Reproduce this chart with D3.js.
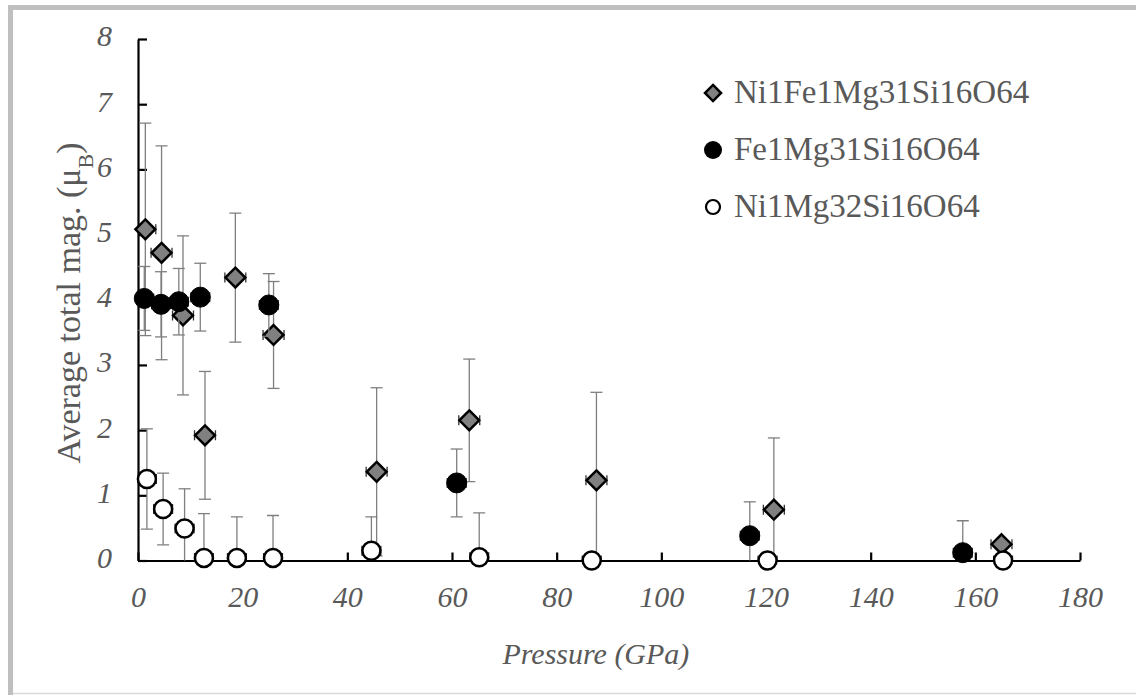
<!DOCTYPE html>
<html><head><meta charset="utf-8"><script src="https://cdn.jsdelivr.net/npm/d3@7"></script></head>
<body style="margin:0">
<svg id="chart" width="1136" height="695"></svg>
<script>
// Ni1Fe1Mg31Si16O64 (grey diamonds)
const niFePressure = [1.4, 4.5, 8.6, 12.8, 18.6, 25.9, 45.6, 63.3, 87.6, 121.5, 165.0];
const niFeMag = [5.08, 4.72, 3.76, 1.92, 4.34, 3.46, 1.36, 2.15, 1.23, 0.78, 0.25];
const niFeErr = [1.63, 1.64, 1.22, 0.98, 0.99, 0.82, 1.29, 0.94, 1.35, 1.1, 0.0];

// Fe1Mg31Si16O64 (black circles)
const fePressure = [1.2, 4.4, 7.8, 11.9, 25.0, 60.9, 116.9, 157.6];
const feMag = [4.02, 3.93, 3.97, 4.04, 3.92, 1.19, 0.38, 0.12];
const feErr = [0.49, 0.5, 0.51, 0.52, 0.48, 0.52, 0.52, 0.49];

// Ni1Mg32Si16O64 (open circles)
const niPressure = [1.7, 4.8, 8.9, 12.6, 18.9, 25.8, 44.6, 65.2, 86.7, 120.3, 165.3];
const niMag = [1.25, 0.79, 0.49, 0.04, 0.04, 0.04, 0.15, 0.05, 0.0, 0.0, 0.0];
const niErr = [0.77, 0.55, 0.61, 0.68, 0.63, 0.65, 0.52, 0.68, 0.0, 0.0, 0.0];

// small horizontal (pressure) error, mostly hidden behind markers
const niFePressureErr = 2.0;
const circlePressureErr = 1.8;

const xTicks = [0, 20, 40, 60, 80, 100, 120, 140, 160, 180];
const yTicks = [0, 1, 2, 3, 4, 5, 6, 7, 8];

const seriesNames = ['Ni1Fe1Mg31Si16O64', 'Fe1Mg31Si16O64', 'Ni1Mg32Si16O64'];

const fontFam = '"Liberation Serif"';
const textGrey = '#595959';
const barGrey = '#7f7f7f';

const svg = d3.select('#chart');

// outer frame
svg.append('rect')
  .attr('x', 10.5)
  .attr('y', 7.5)
  .attr('width', 1140)
  .attr('height', 690)
  .attr('fill', 'none')
  .attr('stroke', '#bfbfbf')
  .attr('stroke-width', 5);
svg.append('line')
  .attr('x1', 13).attr('x2', 1136)
  .attr('y1', 693.5).attr('y2', 693.5)
  .attr('stroke', '#d9d9d9')
  .attr('stroke-width', 1.5);

const x = d3.scaleLinear().domain([0, 180]).range([138, 1080]);
const y = d3.scaleLinear().domain([0, 8]).range([560.5, 39]);

// clip so lower error bars stop at the axis
svg.append('defs')
  .append('clipPath')
  .attr('id', 'plot-clip')
  .append('rect')
  .attr('x', x(0))
  .attr('y', y(8) - 5)
  .attr('width', x(180) - x(0) + 10)
  .attr('height', y(0) - y(8) + 5);

// axes
const xAxis = svg.append('g')
  .attr('transform', `translate(0,${y(0)})`)
  .call(d3.axisBottom(x).tickValues(xTicks).tickSizeInner(-8).tickSizeOuter(0).tickPadding(25));
const yAxis = svg.append('g')
  .attr('transform', `translate(${x(0)},0)`)
  .call(d3.axisLeft(y).tickValues(yTicks).tickSizeInner(-9).tickSizeOuter(0).tickPadding(26));

[xAxis, yAxis].forEach(ax => {
  ax.select('.domain').attr('stroke', '#000').attr('stroke-width', 2.2);
  ax.selectAll('.tick line').attr('stroke', '#000').attr('stroke-width', 2.2);
  ax.selectAll('.tick text')
    .attr('fill', textGrey)
    .style('font-family', fontFam)
    .style('font-style', 'italic')
    .style('font-size', '30px');
});
yAxis.selectAll('.tick text').attr('dy', '0.23em');
xAxis.selectAll('.tick text').attr('dy', '0.71em');

// axis titles
svg.append('text')
  .attr('x', x(87.5))
  .attr('y', 664)
  .attr('text-anchor', 'middle')
  .attr('fill', textGrey)
  .style('font-family', fontFam)
  .style('font-style', 'italic')
  .style('font-size', '30px')
  .text('Pressure (GPa)');

const yTitle = svg.append('text')
  .attr('transform', 'translate(80,303) rotate(-90)')
  .attr('text-anchor', 'middle')
  .attr('fill', textGrey)
  .style('font-family', fontFam)
  .style('font-size', '34px');
yTitle.append('tspan').text('Average total mag. (μ');
yTitle.append('tspan').attr('baseline-shift', 'sub').style('font-size', '22px').text('B');
yTitle.append('tspan').text(')');

const plot = svg.append('g');

const makeRows = (ps, ms, es) => ps.map((p, i) => ({ p, m: ms[i], e: es[i] }));

function drawSeries(rows, xErr, marker) {
  const g = plot.append('g');
  const bars = g.append('g')
    .attr('clip-path', 'url(#plot-clip)')
    .attr('stroke', barGrey)
    .attr('stroke-width', 1.3)
    .attr('fill', 'none');

  // vertical error bars
  const vRows = rows.filter(d => d.e > 0);
  bars.selectAll('.v')
    .data(vRows)
    .join('line')
    .attr('x1', d => x(d.p)).attr('x2', d => x(d.p))
    .attr('y1', d => y(d.m + d.e)).attr('y2', d => y(d.m - d.e));
  bars.selectAll('.capTop')
    .data(vRows)
    .join('line')
    .attr('x1', d => x(d.p) - 6).attr('x2', d => x(d.p) + 6)
    .attr('y1', d => y(d.m + d.e)).attr('y2', d => y(d.m + d.e));
  bars.selectAll('.capBot')
    .data(vRows.filter(d => d.m - d.e >= 0))
    .join('line')
    .attr('x1', d => x(d.p) - 6).attr('x2', d => x(d.p) + 6)
    .attr('y1', d => y(d.m - d.e)).attr('y2', d => y(d.m - d.e));

  // horizontal error bars
  bars.selectAll('.h')
    .data(rows)
    .join('path')
    .attr('stroke', '#333')
    .attr('d', d => {
      const l = x(d.p - xErr);
      const r = x(d.p + xErr);
      const c = y(d.m);
      return `M${l},${c}H${r}M${l},${c - 5}V${c + 5}M${r},${c - 5}V${c + 5}`;
    });

  marker(g.selectAll('.pt').data(rows).join('g')
    .attr('transform', d => `translate(${x(d.p)},${y(d.m)})`));
}

const diamondMarker = sel => sel.append('path')
  .attr('d', d3.symbol().type(d3.symbolDiamond2).size(250))
  .attr('fill', '#808080')
  .attr('stroke', '#000')
  .attr('stroke-width', 2.5);
const filledCircle = sel => sel.append('circle')
  .attr('r', 10)
  .attr('fill', '#000')
  .attr('stroke', '#000')
  .attr('stroke-width', 1);
const openCircle = sel => sel.append('circle')
  .attr('r', 9)
  .attr('fill', '#fff')
  .attr('stroke', '#000')
  .attr('stroke-width', 2.5);

drawSeries(makeRows(niFePressure, niFeMag, niFeErr), niFePressureErr, diamondMarker);
drawSeries(makeRows(fePressure, feMag, feErr), circlePressureErr, filledCircle);
drawSeries(makeRows(niPressure, niMag, niErr), circlePressureErr, openCircle);

// legend
const legendMarkers = [
  sel => sel.append('path').attr('d', d3.symbol().type(d3.symbolDiamond2).size(165))
    .attr('fill', '#808080').attr('stroke', '#000').attr('stroke-width', 2.5),
  sel => sel.append('circle').attr('r', 9).attr('fill', '#000'),
  sel => sel.append('circle').attr('r', 7).attr('fill', '#fff')
    .attr('stroke', '#000').attr('stroke-width', 2.2)
];
const legend = svg.append('g').attr('transform', 'translate(713,93)');
seriesNames.forEach((name, i) => {
  const row = legend.append('g').attr('transform', `translate(0,${i * 57})`);
  legendMarkers[i](row);
  row.append('text')
    .attr('x', 21)
    .attr('y', 10)
    .attr('fill', textGrey)
    .style('font-family', fontFam)
    .style('font-size', '33px')
    .text(name);
});
</script>
</body>
</html>
